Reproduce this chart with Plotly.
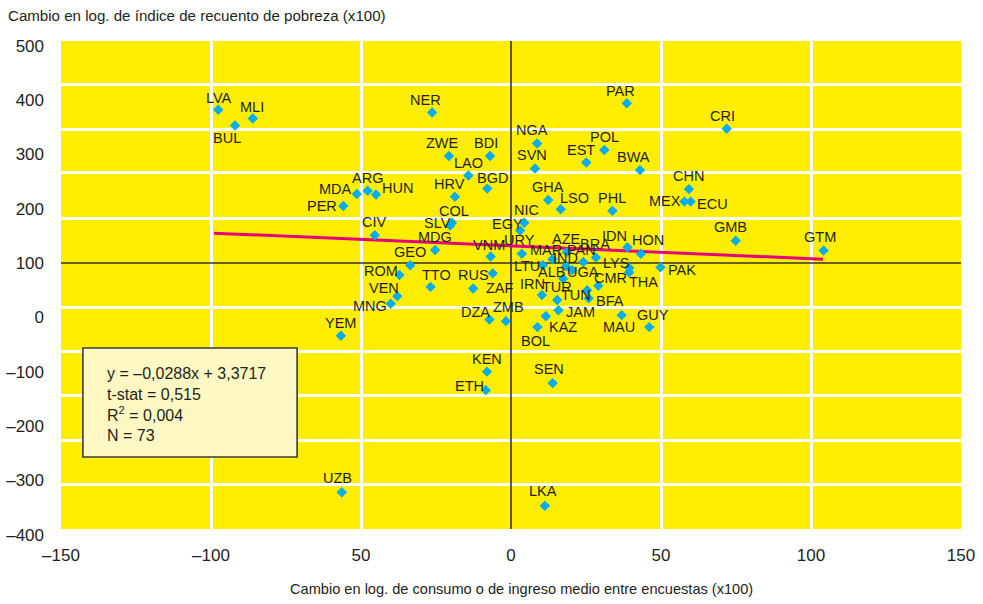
import plotly.graph_objects as go

# ---------------- data ----------------
countries = ["LVA", "BUL", "MLI", "NER", "PAR", "CRI", "NGA", "POL", "ZWE", "BDI",
             "EST", "SVN", "BWA", "LAO", "ARG", "HUN", "MDA", "BGD", "HRV", "GHA",
             "LSO", "PHL", "PER", "CHN", "MEX", "ECU", "NIC", "EGY", "COL", "SLV",
             "CIV", "MDG", "GMB", "GTM", "URY", "VNM", "IDN", "HON", "MAR", "AZE",
             "PAN", "BRA", "IND", "LTU", "ALB", "UGA", "LYS", "THA", "CMR", "TUN",
             "PAK", "TTO", "RUS", "ZAF", "ROM", "GEO", "VEN", "MNG", "IRN", "TUR",
             "JAM", "KAZ", "BOL", "BFA", "MAU", "GUY", "YEM", "DZA", "ZMB", "KEN",
             "ETH", "SEN", "UZB", "LKA"]

x_vals = [-97.6, -92.0, -86.1, -26.3, 38.6, 71.9, 8.7, 31.1, -20.7, -7.0,
          25.1, 8.0, 43.0, -14.2, -47.8, -45.0, -51.4, -7.9, -18.7, 12.4,
          16.6, 33.8, -55.9, 59.3, 57.8, 59.9, 4.4, 3.0, -19.7, -20.3,
          -45.4, -25.3, 74.9, 104.2, 3.6, -6.8, 38.8, 43.3, 13.8, 18.6,
          24.1, 28.3, 18.3, 10.6, 17.4, 20.4, 39.4, 39.4, 29.1, 25.4,
          49.8, -26.8, -12.6, -6.1, -37.2, -33.6, -37.9, -40.1, 10.3, 15.4,
          15.8, 11.6, 8.8, 25.9, 36.9, 46.1, -56.7, -7.2, -1.7, -8.0,
          -8.4, 13.9, -56.4, 11.3]

y_vals = [382, 353, 366, 377, 394, 347, 320, 308, 297, 297,
          285, 274, 271, 261, 233, 226, 227, 237, 222, 216,
          199, 196, 205, 236, 213, 213, 174, 160, 174, 169,
          151, 124, 141, 123, 117, 112, 129, 117, 107, 120,
          102, 110, 94, 96, 71, 87, 91, 83, 58, 50,
          92, 56, 53, 81, 78, 96, 39, 25, 41, 32,
          13, 2, -18, 35, 4, -18, -34, -4, -7, -100,
          -134, -121, -322, -347]

# regression line end points as drawn in the reference
line_x = [-99, 104]
line_y = [155, 107]

stats_text = ["y = –0,0288x + 3,3717", "t-stat = 0,515", "R<sup>2</sup> = 0,004", "N = 73"]

x_ticks = [-150, -100, -50, 0, 50, 100, 150]
x_ticktext = ["–150", "–100", "50", "0", "50", "100", "150"]
y_ticks = [500, 400, 300, 200, 100, 0, -100, -200, -300, -400]
y_ticktext = ["500", "400", "300", "200", "100", "0", "–100", "–200", "–300", "–400"]

y_title = "Cambio en log. de índice de recuento de pobreza (x100)"
x_title = "Cambio en log. de consumo o de ingreso medio entre encuestas (x100)"

# ---------------- styling / layout helpers ----------------
NARROW = "Liberation Sans Narrow, Arial Narrow, Liberation Sans, Arial, sans-serif"
LABEL_FONT = "Liberation Sans, Arial, Helvetica, sans-serif"
TXT = "#231F20"
YELLOW = "#FFEE00"
BLUE = "#00AEEF"
PINK = "#E5007D"

# panel (yellow) extent and white grid positions
panel_x = (-150, 150)
panel_y = (-389.6, 508.6)
grid_x = [-100, -50, 50, 100]
grid_y = [429.5, 346.6, 265.7, 182.8, 19.0, -62.0, -143.0, -225.8, -306.8]
y_range = [-404.3, 516.0]

# label offsets in pixels (dx right, dy down) relative to the marker
default_off = (0, -13)
label_off = {
    "BUL": (-8, 12), "HUN": (21, -7), "MDA": (-21, -5), "BGD": (5, -11),
    "LSO": (14, -11), "PER": (-21, 0), "MEX": (-19, -1), "ECU": (22, 2),
    "GMB": (-5, -14), "GTM": (-4, -14), "PAK": (22, 3), "HON": (7, -14),
    "IDN": (-13, -11), "EGY": (-13, -6), "SLV": (-13, -3), "URY": (-2, -14),
    "MAR": (-6, -9), "BRA": (-1, -14), "PAN": (-2, -12), "IND": (0, -8),
    "LTU": (-16, 1), "UGA": (11, 2), "ALB": (-12, -7), "TUN": (-11, 5),
    "CMR": (12, -8), "THA": (14, 10), "LYS": (-13, -5), "JAM": (22, 2),
    "KAZ": (17, 11), "BOL": (-2, 14), "IRN": (-9, -11), "BFA": (21, 3),
    "MAU": (-3, 12), "GUY": (4, -12), "VEN": (-13, -8), "MNG": (-21, 2),
    "ROM": (-18, -4), "TTO": (6, -12), "RUS": (0, -14), "ZAF": (7, 15),
    "DZA": (-14, -8), "ZMB": (3, -14), "ETH": (-16, -4), "SEN": (-4, -14),
    "UZB": (-4, -14), "LKA": (-2, -15), "VNM": (-2, -11), "LAO": (0, -13),
    "NER": (-7, -13), "PAR": (-6, -12), "NGA": (-5, -13), "ZWE": (-6, -13),
    "BDI": (-4, -13), "EST": (-5, -13), "SVN": (-3, -13), "BWA": (-7, -13),
    "HRV": (-5, -13), "CRI": (-4, -13), "LVA": (1, -12), "MLI": (-1, -12),
    "COL": (2, -12), "NIC": (2, -13),
}

fig = go.Figure()

# regression line
fig.add_trace(go.Scatter(x=line_x, y=line_y, mode="lines",
                         line=dict(color=PINK, width=3), hoverinfo="skip"))
# points
fig.add_trace(go.Scatter(x=x_vals, y=y_vals, mode="markers", text=countries,
                         marker=dict(symbol="diamond", size=8, color=BLUE,
                                     line=dict(width=0))))

shapes = [
    dict(type="rect", xref="x", yref="y", x0=panel_x[0], x1=panel_x[1],
         y0=panel_y[0], y1=panel_y[1], fillcolor=YELLOW, line=dict(width=0),
         layer="below"),
    dict(type="line", xref="x", yref="y", x0=0, x1=0, y0=panel_y[0], y1=panel_y[1],
         line=dict(color="#333333", width=1.6), layer="between"),
    dict(type="line", xref="x", yref="y", x0=panel_x[0], x1=panel_x[1], y0=100, y1=100,
         line=dict(color="#333333", width=1.6), layer="between"),
    # statistics box
    dict(type="rect", xref="x", yref="y", x0=-142.7, x1=-71.3, y0=-257.1, y1=-56.5,
         fillcolor="#FFF8C2", line=dict(color="#3A3A3A", width=1.6), layer="above"),
]

annotations = []
for c, xv, yv in zip(countries, x_vals, y_vals):
    dx, dy = label_off.get(c, default_off)
    annotations.append(dict(x=xv, y=yv, xref="x", yref="y", text=c, showarrow=False,
                            xshift=dx, yshift=-dy,
                            font=dict(family=LABEL_FONT, size=14.5, color=TXT)))

annotations.append(dict(x=-134.7, y=-159.5, xref="x", yref="y", xanchor="left",
                        yanchor="middle", align="left", showarrow=False, xshift=-2,
                        text="<br>".join(stats_text),
                        font=dict(family=NARROW, size=16, color=TXT)))

annotations.append(dict(x=(521 - 61) / 900, y=(537 - 589) / 500, xref="paper", yref="paper",
                        xanchor="center", yanchor="middle", showarrow=False, text=x_title,
                        font=dict(family=NARROW, size=14.6, color=TXT)))

fig.update_layout(
    width=983, height=604,
    margin=dict(l=61, r=22, t=37, b=67),
    paper_bgcolor="white", plot_bgcolor="white",
    showlegend=False,
    title=dict(text=y_title, x=8 / 983, xanchor="left", xref="container",
               y=1 - 16 / 604, yanchor="middle", yref="container",
               font=dict(family=NARROW, size=15.1, color=TXT)),
    shapes=shapes, annotations=annotations,
    xaxis=dict(range=[-150, 150], tickmode="array", tickvals=x_ticks, ticktext=x_ticktext,
               showgrid=False, zeroline=False, showline=False, ticks="",
               ticklabelstandoff=6, automargin=False,
               tickfont=dict(family=NARROW, size=17, color=TXT),
               minor=dict(tickmode="array", tickvals=grid_x, showgrid=True,
                          gridcolor="white", gridwidth=3, ticks="")),
    yaxis=dict(range=y_range, tickmode="array", tickvals=y_ticks, ticktext=y_ticktext,
               showgrid=False, zeroline=False, showline=False, ticks="",
               ticklabelstandoff=16, automargin=False,
               tickfont=dict(family=NARROW, size=17, color=TXT),
               minor=dict(tickmode="array", tickvals=grid_y, showgrid=True,
                          gridcolor="white", gridwidth=3, ticks="")),
)

fig.write_html("out.html", config={"displayModeBar": False},
               post_script="document.body.style.margin='0px';")
